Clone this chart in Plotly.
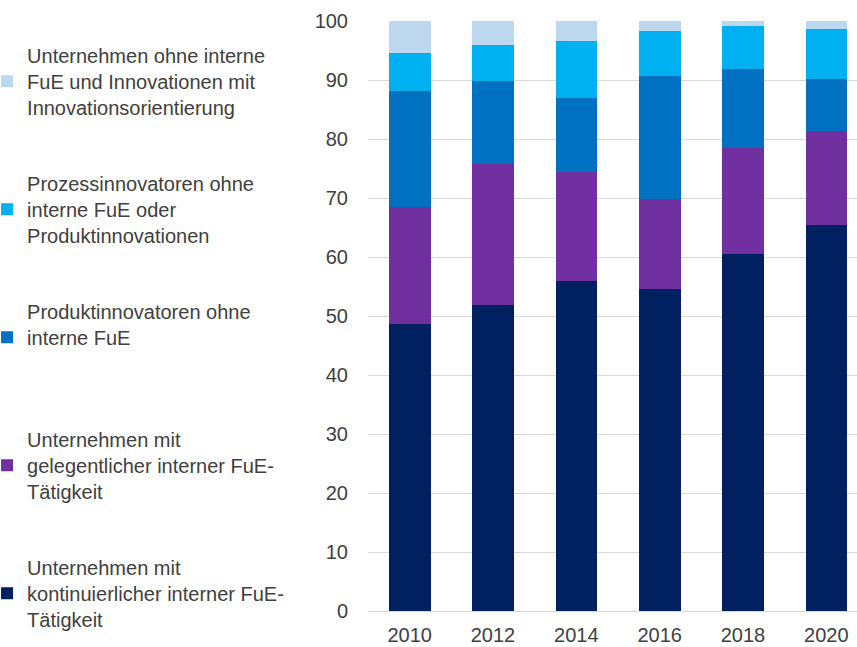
import plotly.graph_objects as go

years = ["2010", "2012", "2014", "2016", "2018", "2020"]

kontinuierlich = [48.6, 51.8, 55.9, 54.6, 60.5, 65.5]
gelegentlich = [19.8, 23.9, 18.5, 15.2, 18.0, 15.8]
produktinnov = [19.7, 14.1, 12.6, 20.9, 13.3, 8.9]
prozessinnov = [6.5, 6.1, 9.6, 7.6, 7.4, 8.5]
ohne_fue = [5.4, 4.1, 3.4, 1.7, 0.8, 1.3]

series_names = [
    "Unternehmen mit<br>kontinuierlicher interner FuE-<br>Tätigkeit",
    "Unternehmen mit<br>gelegentlicher interner FuE-<br>Tätigkeit",
    "Produktinnovatoren ohne<br>interne FuE<br> ",
    "Prozessinnovatoren ohne<br>interne FuE oder<br>Produktinnovationen",
    "Unternehmen ohne interne<br>FuE und Innovationen mit<br>Innovationsorientierung",
]
series_values = [kontinuierlich, gelegentlich, produktinnov, prozessinnov, ohne_fue]
colors = ["#002060", "#7030A0", "#0070C0", "#00B0F0", "#BDD7EE"]

fig = go.Figure()
n = len(series_names)
for i, (name, vals, col) in enumerate(zip(series_names, series_values, colors)):
    fig.add_trace(go.Bar(
        x=years, y=vals, name=name, marker_color=col,
        marker_line_width=0, width=0.5, legendgroup=f"g{i}",
        legendrank=n - i,
    ))

fig.update_layout(
    barmode="stack",
    width=857, height=647,
    margin=dict(l=368, r=0, t=21, b=36, autoexpand=False),
    plot_bgcolor="white", paper_bgcolor="white",
    font=dict(family="Liberation Sans, Arial, sans-serif", size=20, color="#404040"),
    legend=dict(
        x=-0.779, xanchor="left", y=0.975, yanchor="top",
        traceorder="grouped", tracegroupgap=47, maxheight=647,
        font=dict(size=20, color="#404040"),
        bgcolor="rgba(0,0,0,0)",
    ),
    xaxis=dict(
        type="category", range=[-0.5, 5.368], showgrid=False,
        showline=True, linecolor="#D9D9D9", linewidth=1,
        ticks="", tickfont=dict(size=20, color="#404040"),
        ticklabelstandoff=6,
    ),
    yaxis=dict(
        range=[0, 100], dtick=10, showgrid=True, gridcolor="#D9D9D9",
        gridwidth=1, zeroline=False, showline=False, ticks="",
        tickfont=dict(size=20, color="#404040"), ticklabelstandoff=19,
    ),
)

fig.write_html(
    "out.html",
    config={"displayModeBar": False},
    post_script="document.body.style.margin='0';",
)
